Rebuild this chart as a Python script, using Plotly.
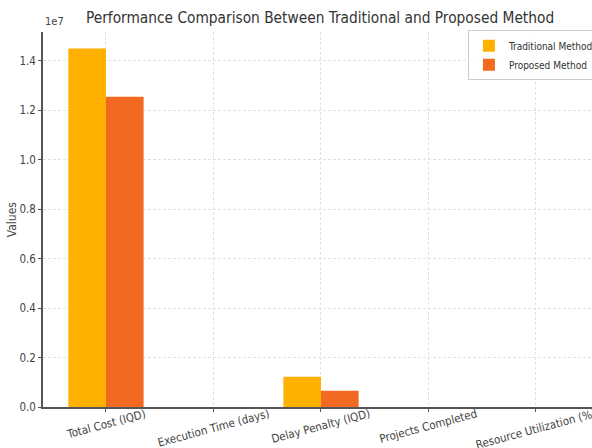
import plotly.graph_objects as go

categories = ["Total Cost (IQD)", "Execution Time (days)", "Delay Penalty (IQD)",
              "Projects Completed", "Resource Utilization (%)"]
traditional = [14_500_000, 180, 1_225_000, 10, 75]
proposed = [12_550_000, 150, 660_000, 12, 90]
y_tick_values = [0, 2e6, 4e6, 6e6, 8e6, 10e6, 12e6, 14e6]
y_tick_labels = ["0.0", "0.2", "0.4", "0.6", "0.8", "1.0", "1.2", "1.4"]

FONT = "DejaVu Sans Condensed, Liberation Sans Narrow, DejaVu Sans, sans-serif"
TEXT = "#444444"

fig = go.Figure()
fig.add_trace(go.Bar(name="Traditional Method", x=categories, y=traditional,
                     marker=dict(color="#FFB000", line=dict(width=0))))
fig.add_trace(go.Bar(name="Proposed Method", x=categories, y=proposed,
                     marker=dict(color="#F26A22", line=dict(width=0))))

fig.update_layout(
    width=592, height=448,
    margin=dict(l=43, r=0, t=32, b=41, autoexpand=False),
    barmode="group", bargap=0.3, bargroupgap=0,
    plot_bgcolor="white", paper_bgcolor="white",
    font=dict(family=FONT, color=TEXT, size=12),
    title=dict(text="Performance Comparison Between Traditional and Proposed Method",
               x=0.5046, xref="paper", xanchor="center", y=1 - 18 / 448, yanchor="middle",
               font=dict(size=15.3, color="#333333", family=FONT)),
    legend=dict(x=0.774, y=1.005, xanchor="left", yanchor="top",
                bgcolor="rgba(255,255,255,0.9)", bordercolor="#CCCCCC", borderwidth=1,
                font=dict(size=10, color="#333333", family=FONT),
                itemwidth=30, tracegroupgap=0),
    showlegend=True,
)

fig.update_xaxes(
    range=[-0.586, 4.521], automargin=False,
    showgrid=True, gridcolor="#E2E2E2", griddash="3px,2px", gridwidth=0.8,
    showline=True, linecolor="#555555", linewidth=1.5,
    ticks="outside", ticklen=3, tickcolor="#555555",
    showticklabels=False,
)
fig.update_yaxes(
    range=[0, 15_170_000], automargin=False,
    tickvals=y_tick_values, ticktext=y_tick_labels,
    showgrid=True, gridcolor="#E2E2E2", griddash="3px,2px", gridwidth=0.8,
    zeroline=False,
    showline=True, linecolor="#555555", linewidth=1.5,
    ticks="outside", ticklen=3, tickcolor="#555555",
    tickfont=dict(size=11.5, color=TEXT, family=FONT),
)

# y-axis title
fig.add_annotation(text="Values", xref="paper", yref="paper", x=-0.057, y=0.5,
                   xanchor="center", yanchor="middle", textangle=-90, showarrow=False,
                   font=dict(size=12, color=TEXT, family=FONT))

# category labels, rotated and centred under each tick
for cat in categories:
    fig.add_annotation(text=cat, x=cat, xref="x", y=0, yref="paper",
                       xanchor="center", yanchor="top", yshift=3,
                       textangle=-15, showarrow=False,
                       font=dict(size=11.5, color=TEXT, family=FONT))

fig.add_annotation(text="1e7", xref="paper", yref="paper", x=0, y=1.0,
                   xanchor="left", yanchor="bottom", showarrow=False,
                   font=dict(size=11, color=TEXT, family=FONT), yshift=2)

fig.write_html("out.html")
